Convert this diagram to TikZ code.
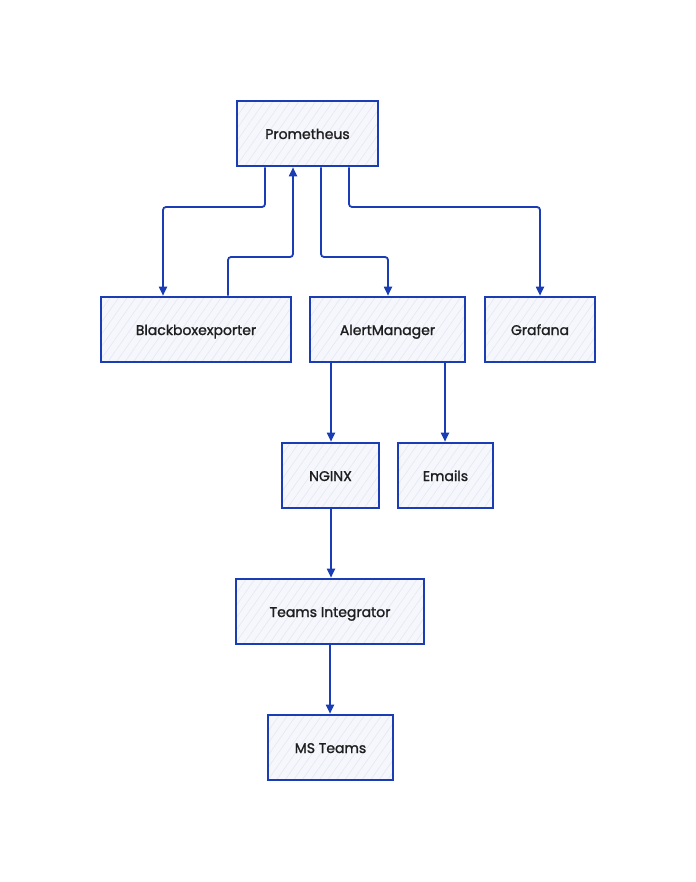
\documentclass[tikz,border=0pt]{standalone}
\usepackage{fontspec}
\setmainfont{Poppins}
\newfontfamily\lblfont[FakeBold=1.4]{Poppins}
\usetikzlibrary{arrows.meta,patterns.meta}
\definecolor{edge}{HTML}{1A3DB5}
\definecolor{boxfill}{HTML}{F5F7FC}
\definecolor{txt}{HTML}{1E1E1E}
\definecolor{hatch}{HTML}{E4E8F2}
\tikzset{
  box/.style={draw=edge, line width=2.6pt, minimum height=65pt,
    inner sep=0pt, text height=12pt, text depth=1pt,
    font=\lblfont\fontsize{14}{16}\selectfont, text=txt,
    preaction={fill=boxfill},
    preaction={pattern={Lines[angle=55,distance=7pt,line width=0.6pt]}, pattern color=hatch}},
  conn/.style={draw=edge, line width=1.8pt, rounded corners=3pt,
    -{Triangle[length=9pt,width=8pt]}},
}
\begin{document}
\begin{tikzpicture}[x=1pt,y=-1pt]
\useasboundingbox (0,0) rectangle (695,882);
\node[box, minimum width=141pt] (prom) at (307.5,133.5) {Prometheus};
\node[box, minimum width=190pt] (bbe) at (196,329.5) {Blackboxexporter};
\node[box, minimum width=155pt] (am) at (387.5,329.5) {AlertManager};
\node[box, minimum width=110pt] (graf) at (540,329.5) {Grafana};
\node[box, minimum width=97pt] (nginx) at (330.5,475.5) {NGINX};
\node[box, minimum width=95pt] (mail) at (445.5,475.5) {Emails};
\node[box, minimum width=188pt] (ti) at (330,611.5) {Teams Integrator};
\node[box, minimum width=125pt] (mst) at (330.5,747.5) {MS Teams};

\draw[conn] (prom.south -| 265,0) |- (214,207) -| (bbe.north -| 163,0);
\draw[conn] (bbe.north -| 228,0) |- (260,257) -| (prom.south -| 293,0);
\draw[conn] (prom.south -| 321,0) |- (350,257) -| (am.north -| 388,0);
\draw[conn] (prom.south -| 349,0) |- (450,207) -| (graf.north);
\draw[conn] (am.south -| 331,0) -- (nginx.north -| 331,0);
\draw[conn] (am.south -| 445,0) -- (mail.north -| 445,0);
\draw[conn] (nginx.south -| 331,0) -- (ti.north -| 331,0);
\draw[conn] (ti.south) -- (mst.north -| 330,0);
\end{tikzpicture}
\end{document}
